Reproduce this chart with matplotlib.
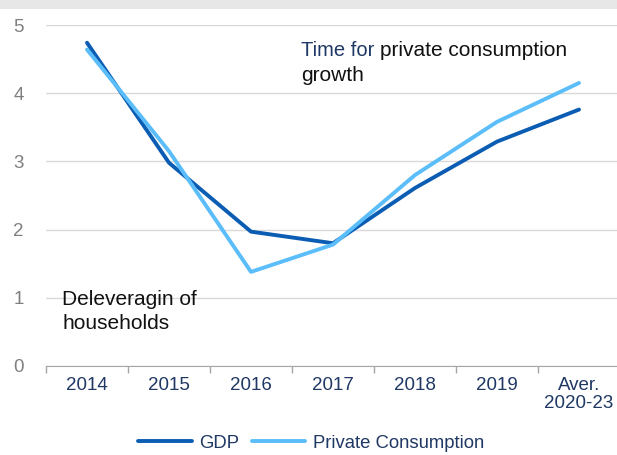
import matplotlib.pyplot as plt
from matplotlib.patches import Rectangle

plt.rcParams["font.family"] = ["Liberation Sans", "DejaVu Sans"]

CATEGORIES = ["2014", "2015", "2016", "2017", "2018", "2019", "Aver.\n2020-23"]
GDP = [4.74, 2.98, 1.97, 1.80, 2.61, 3.29, 3.76]
PRIVATE_CONS = [4.64, 3.15, 1.38, 1.78, 2.80, 3.58, 4.15]
Y_TICKS = [0, 1, 2, 3, 4, 5]

GDP_COLOR = "#0b5cb3"
PC_COLOR = "#5bbdf9"
NAVY = "#1f3864"
GRID = "#d9d9d9"

fig = plt.figure(figsize=(6.17, 4.55), dpi=100)
fig.patch.set_facecolor("white")
# grey header strip at the very top
fig.patches.append(Rectangle((0, 1 - 9 / 455), 1, 9 / 455, transform=fig.transFigure,
                             facecolor="#e7e7e7", edgecolor="none", zorder=0))

ax = fig.add_axes([46 / 617, 1 - 366 / 455, 574 / 617, 341 / 455])
x = list(range(len(CATEGORIES)))
ax.plot(x, GDP, color=GDP_COLOR, lw=2.8, solid_capstyle="round", label="GDP", zorder=3)
ax.plot(x, PRIVATE_CONS, color=PC_COLOR, lw=2.8, solid_capstyle="round",
        label="Private Consumption", zorder=4)

ax.set_xlim(-0.5, len(CATEGORIES) - 0.5)
ax.set_ylim(0, 5)
ax.set_yticks(Y_TICKS)
ax.set_xticks(x)
ax.set_xticklabels(CATEGORIES, fontsize=13.5, color=NAVY, linespacing=1.05)
ax.set_xticks([i + 0.5 for i in range(-1, len(CATEGORIES) - 1)], minor=True)
ax.tick_params(axis="x", which="major", length=0, pad=8)
ax.tick_params(axis="x", which="minor", length=5, color="#a6a6a6", width=1)
ax.tick_params(axis="y", length=0, labelsize=13.5, labelcolor="#7f7f7f", pad=16)

ax.grid(axis="y", color=GRID, lw=1)
ax.set_axisbelow(True)
for spine in ("top", "right", "left"):
    ax.spines[spine].set_visible(False)
ax.spines["bottom"].set_color("#a6a6a6")

# annotation: "Time for " in navy, the rest in black
t1 = ax.text(2.61, 4.62, "Time for ", fontsize=14.5, color=NAVY, va="center", ha="left")
fig.canvas.draw()
bb = t1.get_window_extent()
x_end = ax.transData.inverted().transform((bb.x1, bb.y0))[0]
ax.text(x_end, 4.62, "private consumption", fontsize=15, color="#111111",
        va="center", ha="left")
ax.text(2.61, 4.26, "growth", fontsize=15, color="#111111", va="center", ha="left")

ax.text(-0.3, 0.97, "Deleveragin of", fontsize=15, color="#111111", va="center", ha="left")
ax.text(-0.3, 0.63, "households", fontsize=15, color="#111111", va="center", ha="left")

leg = fig.legend(loc="center", bbox_to_anchor=(311 / 617, 1 - 443 / 455), ncol=2,
                 frameon=False, fontsize=13.3, handlelength=2.9, columnspacing=0.7,
                 handletextpad=0.4)
for t in leg.get_texts():
    t.set_color(NAVY)

fig.savefig("out.png", dpi=100, facecolor="white")
